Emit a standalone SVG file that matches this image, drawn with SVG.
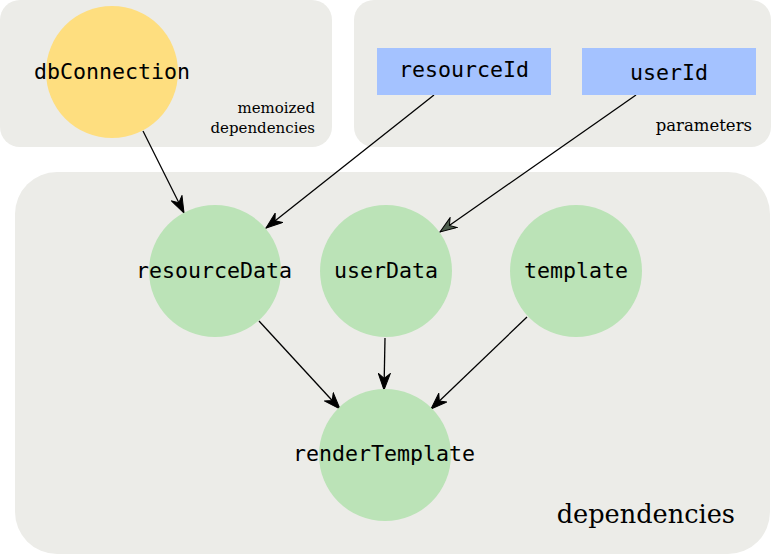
<svg xmlns="http://www.w3.org/2000/svg" width="771" height="555" viewBox="0 0 771 555">
<defs>
<style>
.bg{fill:#ecece8;}
.mono{font-family:"DejaVu Sans Mono",monospace;font-size:21.6px;fill:#000;text-anchor:middle;}
.serif{font-family:"DejaVu Serif",serif;fill:#000;text-anchor:end;}
.green{fill:#bbe3b7;}
.edge{stroke:#000;stroke-width:1.3;fill:none;}
</style>
<marker id="ah" viewBox="0 0 18 13" refX="17" refY="6.5" markerWidth="18" markerHeight="13" markerUnits="userSpaceOnUse" orient="auto">
<path d="M0.5,0.5 L17,6.5 L0.5,12.5 L5.5,6.5 Z" fill="#000" stroke="#000" stroke-width="1"/>
</marker>
<marker id="ahg" viewBox="0 0 18 13" refX="17" refY="6.5" markerWidth="18" markerHeight="13" markerUnits="userSpaceOnUse" orient="auto">
<path d="M0.5,0.5 L17,6.5 L0.5,12.5 L5.5,6.5 Z" fill="#4e5e4e" stroke="#000" stroke-width="1"/>
</marker>
</defs>
<rect width="771" height="555" fill="#ffffff"/>
<g id="memoized">
<rect class="bg" x="0" y="0" width="332" height="147" rx="20" ry="20"/>
<text class="serif" font-size="15" x="315" y="113">memoized</text>
<text class="serif" font-size="15" x="315" y="133">dependencies</text>
</g>
<g id="parameters">
<rect class="bg" x="354" y="0" width="417" height="147" rx="20" ry="20"/>
<text class="serif" font-size="16.5" x="752" y="131">parameters</text>
</g>
<g id="dependencies">
<rect class="bg" x="15" y="172" width="755" height="382" rx="42" ry="42"/>
<text class="serif" font-size="25.6" x="735" y="523">dependencies</text>
</g>
<g id="connectors">
<line class="edge" x1="143" y1="131" x2="184" y2="213" marker-end="url(#ah)"/>
<line class="edge" x1="434" y1="95" x2="266" y2="228" marker-end="url(#ah)"/>
<line class="edge" x1="636" y1="95" x2="440" y2="232" marker-end="url(#ahg)"/>
<line class="edge" x1="259" y1="321" x2="340" y2="409" marker-end="url(#ah)"/>
<line class="edge" x1="385" y1="338" x2="384" y2="390" marker-end="url(#ah)"/>
<line class="edge" x1="527" y1="317" x2="431" y2="409" marker-end="url(#ah)"/>
</g>
<g id="dbConnection">
<circle cx="112" cy="72" r="66" fill="#fede7f"/>
<text class="mono" x="112" y="79">dbConnection</text>
</g>
<g id="resourceId">
<rect x="377" y="48" width="174" height="47" fill="#a4c2ff"/>
<text class="mono" x="464" y="77">resourceId</text>
</g>
<g id="userId">
<rect x="582" y="48" width="174" height="47" fill="#a4c2ff"/>
<text class="mono" x="669" y="80">userId</text>
</g>
<g id="resourceData">
<circle class="green" cx="215" cy="271" r="66"/>
<text class="mono" x="214" y="278">resourceData</text>
</g>
<g id="userData">
<circle class="green" cx="386" cy="271" r="66"/>
<text class="mono" x="386" y="278">userData</text>
</g>
<g id="template">
<circle class="green" cx="576" cy="271" r="66"/>
<text class="mono" x="576" y="278">template</text>
</g>
<g id="renderTemplate">
<circle class="green" cx="385" cy="455" r="66"/>
<text class="mono" x="384" y="461">renderTemplate</text>
</g>
</svg>
